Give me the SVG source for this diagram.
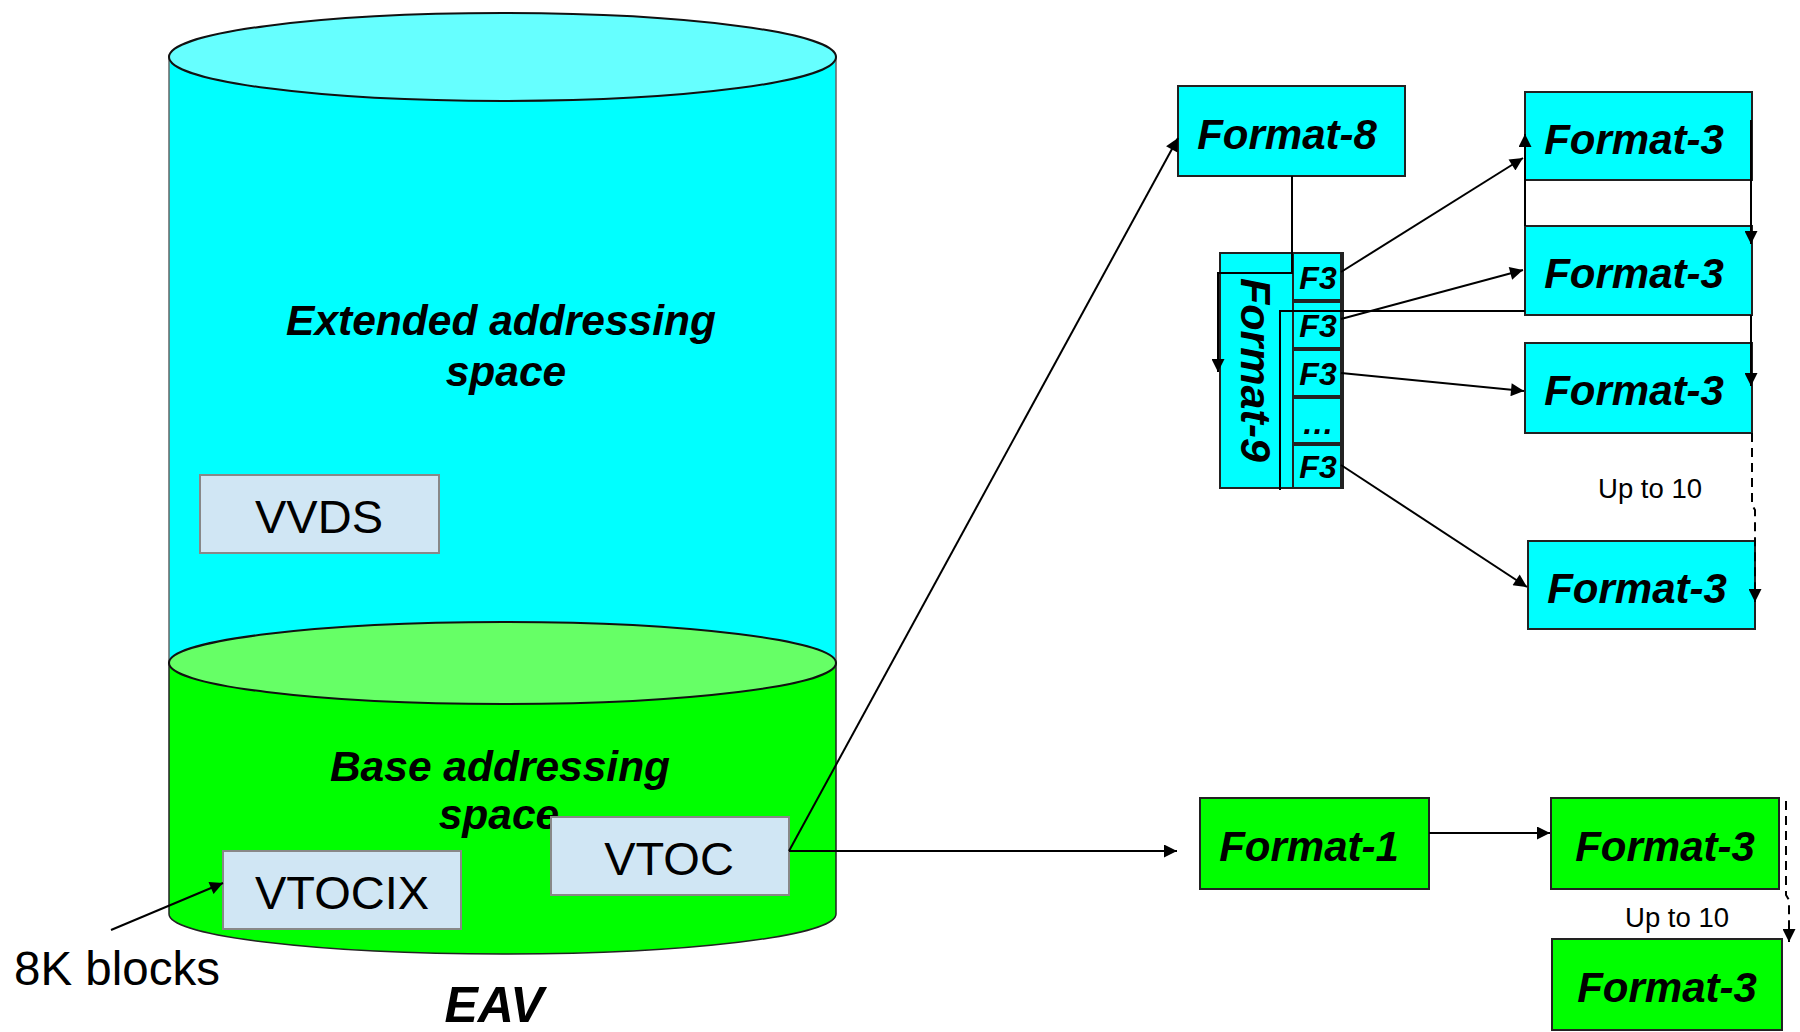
<svg xmlns="http://www.w3.org/2000/svg" width="1800" height="1032" viewBox="0 0 1800 1032">
<style>
.bi{font-family:"Liberation Sans",Arial,sans-serif;font-weight:bold;font-style:italic;fill:#000}
.rg{font-family:"Liberation Sans",Arial,sans-serif;fill:#000}
.cy{fill:#00FFFF;stroke:#222;stroke-width:2}
.gr{fill:#00FF00;stroke:#222;stroke-width:2}
.lb{fill:#D0E6F4;stroke:#888;stroke-width:2}
.ln{fill:none;stroke:#000;stroke-width:2}
.ds{fill:none;stroke:#000;stroke-width:2;stroke-dasharray:9,6}
</style>
<defs>
<marker id="ah" viewBox="0 0 10 10" refX="10" refY="5" markerWidth="17" markerHeight="13" orient="auto" markerUnits="userSpaceOnUse">
<path d="M0,0 L10,5 L0,10 Z" fill="#000"/>
</marker>
</defs>
<rect width="1800" height="1032" fill="#fff"/>

<g id="eav-cylinder">
<rect x="169" y="57" width="667" height="606" fill="#00FFFF" stroke="#666" stroke-width="1.5"/>
<path d="M169,663 V914 A333.5,40 0 0 0 836,914 V663 Z" fill="#00FF00" stroke="#222" stroke-width="1.5"/>
<ellipse cx="502.5" cy="663" rx="333.5" ry="41" fill="#66FF66" stroke="#111" stroke-width="2"/>
<ellipse cx="502.5" cy="57" rx="333.5" ry="44" fill="#66FFFF" stroke="#111" stroke-width="2"/>
<text class="bi" font-size="42.5" x="501" y="335" text-anchor="middle">Extended addressing</text>
<text class="bi" font-size="42.5" x="506" y="386" text-anchor="middle">space</text>
<text class="bi" font-size="42.5" x="500" y="781" text-anchor="middle">Base addressing</text>
<text class="bi" font-size="42.5" x="499" y="829" text-anchor="middle">space</text>
<text class="bi" font-size="50" x="494" y="1022" text-anchor="middle">EAV</text>
</g>

<g id="vvds">
<rect class="lb" x="200" y="475" width="239" height="78"/>
<text class="rg" font-size="47" x="319" y="533" text-anchor="middle">VVDS</text>
</g>
<g id="vtocix">
<rect class="lb" x="223" y="851" width="238" height="78"/>
<text class="rg" font-size="47" x="342" y="909" text-anchor="middle">VTOCIX</text>
</g>
<g id="vtoc">
<rect class="lb" x="551" y="817" width="238" height="78"/>
<text class="rg" font-size="47" x="669" y="875" text-anchor="middle">VTOC</text>
</g>
<g id="label-8k">
<text class="rg" font-size="47.5" x="14" y="985">8K blocks</text>
</g>

<g id="format-8">
<rect class="cy" x="1178" y="86" width="227" height="90"/>
<text class="bi" font-size="42" x="1287" y="149" text-anchor="middle">Format-8</text>
</g>

<g id="format-9">
<rect class="cy" x="1220" y="253" width="123" height="235"/>
<text class="bi" font-size="43" transform="translate(1241,370) rotate(90)" text-anchor="middle">Format-9</text>
<rect class="cy" x="1293" y="253" width="48" height="47"/>
<rect class="cy" x="1293" y="302" width="48" height="46"/>
<rect class="cy" x="1293" y="350" width="48" height="46"/>
<rect class="cy" x="1293" y="398" width="48" height="45"/>
<rect class="cy" x="1293" y="445" width="48" height="43"/>
<text class="bi" font-size="32" x="1318" y="289" text-anchor="middle">F3</text>
<text class="bi" font-size="32" x="1318" y="337" text-anchor="middle">F3</text>
<text class="bi" font-size="32" x="1318" y="385" text-anchor="middle">F3</text>
<text class="bi" font-size="32" x="1318" y="434" text-anchor="middle">…</text>
<text class="bi" font-size="32" x="1318" y="478" text-anchor="middle">F3</text>
</g>

<g id="format-3-a">
<rect class="cy" x="1525" y="92" width="227" height="88"/>
<text class="bi" font-size="42" x="1634" y="154" text-anchor="middle">Format-3</text>
</g>
<g id="format-3-b">
<rect class="cy" x="1525" y="226" width="227" height="89"/>
<text class="bi" font-size="42" x="1634" y="288" text-anchor="middle">Format-3</text>
</g>
<g id="format-3-c">
<rect class="cy" x="1525" y="343" width="227" height="90"/>
<text class="bi" font-size="42" x="1634" y="405" text-anchor="middle">Format-3</text>
</g>
<g id="format-3-d">
<rect class="cy" x="1528" y="541" width="227" height="88"/>
<text class="bi" font-size="42" x="1637" y="603" text-anchor="middle">Format-3</text>
</g>
<g id="label-upto10-a">
<text class="rg" font-size="27.5" x="1650" y="498" text-anchor="middle">Up to 10</text>
</g>

<g id="format-1">
<rect class="gr" x="1200" y="798" width="229" height="91"/>
<text class="bi" font-size="42" x="1309" y="861" text-anchor="middle">Format-1</text>
</g>
<g id="format-3-g1">
<rect class="gr" x="1551" y="798" width="228" height="91"/>
<text class="bi" font-size="42" x="1665" y="861" text-anchor="middle">Format-3</text>
</g>
<g id="format-3-g2">
<rect class="gr" x="1552" y="939" width="230" height="91"/>
<text class="bi" font-size="42" x="1667" y="1002" text-anchor="middle">Format-3</text>
</g>
<g id="label-upto10-b">
<text class="rg" font-size="27.5" x="1677" y="927" text-anchor="middle">Up to 10</text>
</g>

<g id="connectors">
<line class="ln" x1="111" y1="930" x2="223" y2="883" marker-end="url(#ah)"/>
<line class="ln" x1="789" y1="851" x2="1177" y2="851" marker-end="url(#ah)"/>
<line class="ln" x1="789" y1="851" x2="1178" y2="138" marker-end="url(#ah)"/>
<path class="ln" d="M1292,176 V273 H1218 V372" marker-end="url(#ah)"/>
<path class="ln" d="M1525,311 H1280 V490"/>
<line class="ln" x1="1341" y1="272" x2="1523" y2="158" marker-end="url(#ah)"/>
<line class="ln" x1="1341" y1="319" x2="1523" y2="270" marker-end="url(#ah)"/>
<line class="ln" x1="1341" y1="373" x2="1524" y2="391" marker-end="url(#ah)"/>
<line class="ln" x1="1341" y1="465" x2="1527" y2="587" marker-end="url(#ah)"/>
<path class="ln" d="M1525,226 V134" marker-end="url(#ah)"/>
<path class="ln" d="M1751,120 V244" marker-end="url(#ah)"/>
<path class="ln" d="M1751,315 V386" marker-end="url(#ah)"/>
<path class="ds" d="M1752,433 V505 L1755,510 V602" marker-end="url(#ah)"/>
<line class="ln" x1="1429" y1="833" x2="1550" y2="833" marker-end="url(#ah)"/>
<path class="ds" d="M1786,801 V895 L1789,900 V942" marker-end="url(#ah)"/>
</g>
</svg>
